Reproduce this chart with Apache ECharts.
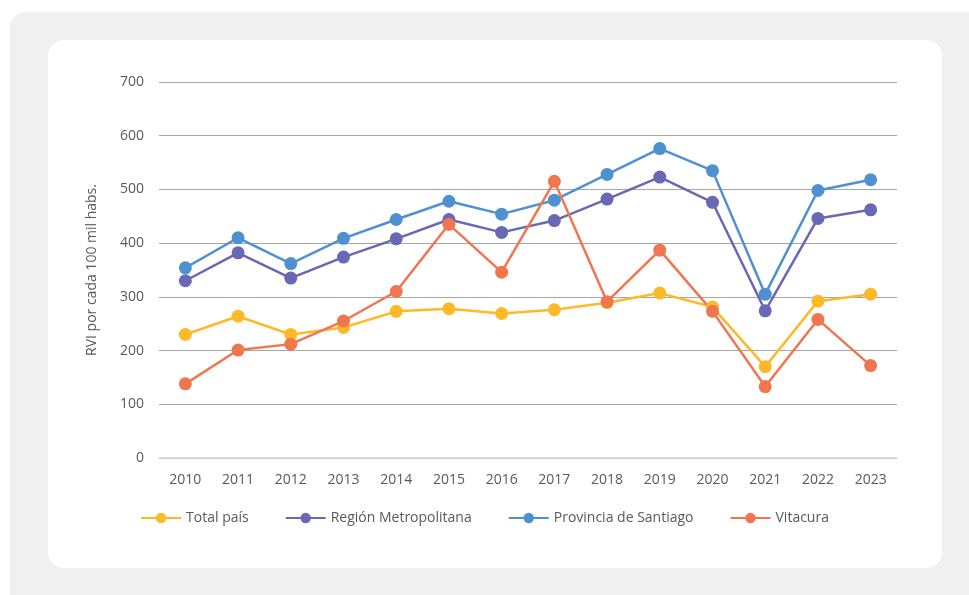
<!DOCTYPE html>
<html><head><meta charset="utf-8">
<script src="https://cdn.jsdelivr.net/npm/echarts@6/dist/echarts.min.js"></script>
<style>
html,body{margin:0;padding:0;background:#fff;width:969px;height:595px;overflow:hidden;}
#bg{position:absolute;left:10px;top:12px;width:990px;height:620px;background:#f0f0f0;border-radius:16px;}
#card{position:absolute;left:48px;top:40px;width:894px;height:528px;background:#fff;border-radius:16px;}
#chart{position:absolute;left:0;top:0;width:969px;height:595px;}
</style></head>
<body>
<div id="bg"></div><div id="card"></div>
<div id="chart"></div>
<script>
const years = ['2010','2011','2012','2013','2014','2015','2016','2017','2018','2019','2020','2021','2022','2023'];
const totalPais = [230,264,230,243,273,278,269,276,289,307,281,170,292,305];
const regionMetropolitana = [330,382,335,374,408,444,420,442,482,523,476,274,446,462];
const provinciaSantiago = [354,410,362,409,444,478,454,480,528,576,535,305,498,518];
const vitacura = [138,201,212,255,310,435,346,515,291,387,273,133,258,172];
const seriesNames = ['Total país','Región Metropolitana','Provincia de Santiago','Vitacura'];
const colors = ['#FDB928','#6868B4','#4F91D0','#F07650'];
const font = '"Open Sans", "Noto Sans", sans-serif';
const chart = echarts.init(document.getElementById('chart'));
const mk = (name, data, color) => ({
  name, type:'line', data, color,
  symbol:'circle', symbolSize:13,
  lineStyle:{width:2.5, color},
  itemStyle:{color},
  emphasis:{disabled:true}
});
chart.setOption({
  animation:false,
  backgroundColor:'transparent',
  textStyle:{fontFamily:font},
  grid:{left:159, right:72, top:82, bottom:137},
  legend:{
    bottom:65, left:'center',
    itemWidth:40, itemHeight:13, itemGap:36,
    textStyle:{fontSize:14, color:'#595959', fontFamily:font},
    data:seriesNames
  },
  xAxis:{
    type:'category', data:years, boundaryGap:true,
    axisLine:{show:true, lineStyle:{color:'#d9d9d9', width:1.5}},
    axisTick:{show:false},
    axisLabel:{fontSize:14, color:'#595959', margin:15, fontFamily:font}
  },
  yAxis:{
    type:'value', min:0, max:700, interval:100,
    name:'RVI por cada 100 mil habs.', nameLocation:'middle', nameGap:60,
    nameTextStyle:{fontSize:14, color:'#595959', fontFamily:font},
    axisLine:{show:false}, axisTick:{show:false},
    axisLabel:{fontSize:14, color:'#595959', margin:15, fontFamily:font},
    splitLine:{lineStyle:{color:'#a6a6a6', width:1}}
  },
  series:[
    mk(seriesNames[0], totalPais, colors[0]),
    mk(seriesNames[1], regionMetropolitana, colors[1]),
    mk(seriesNames[2], provinciaSantiago, colors[2]),
    mk(seriesNames[3], vitacura, colors[3])
  ]
});
</script>
</body></html>
